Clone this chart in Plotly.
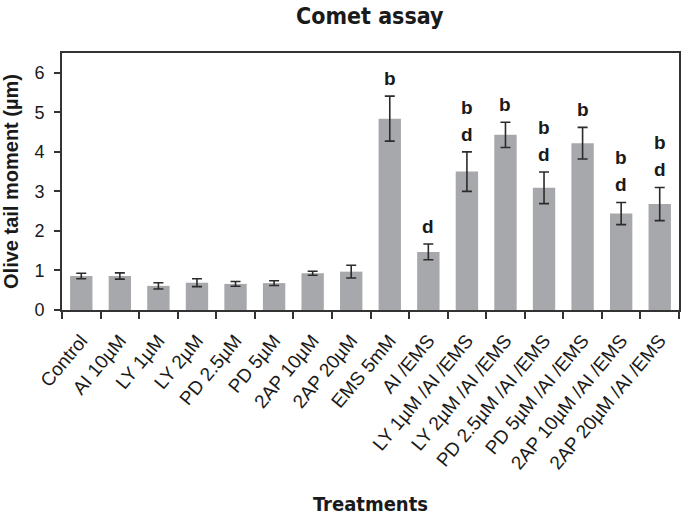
import plotly.graph_objects as go

categories = ["Control", "AI 10µM", "LY 1µM", "LY 2µM", "PD 2.5µM", "PD 5µM",
              "2AP 10µM", "2AP 20µM", "EMS 5mM", "AI /EMS",
              "LY 1µM /AI /EMS", "LY 2µM /AI /EMS", "PD 2.5µM /AI /EMS",
              "PD 5µM /AI /EMS", "2AP 10µM /AI /EMS", "2AP 20µM /AI /EMS"]
values = [0.86, 0.86, 0.61, 0.69, 0.66, 0.68, 0.93, 0.97, 4.84, 1.47,
          3.50, 4.43, 3.09, 4.22, 2.44, 2.68]
errors = [0.07, 0.08, 0.08, 0.10, 0.06, 0.06, 0.05, 0.16, 0.57, 0.20,
          0.50, 0.32, 0.40, 0.40, 0.28, 0.42]
# significance letters, listed from top line to bottom line
letters = [[], [], [], [], [], [], [], [], ["b"], ["d"],
           ["b", "d"], ["b"], ["b", "d"], ["b"], ["b", "d"], ["b", "d"]]
y_ticks = [0, 1, 2, 3, 4, 5, 6]

NARROW = "DejaVu Sans Condensed, Liberation Sans Narrow, sans-serif"
ARIAL = "Liberation Sans, Arial, sans-serif"

fig = go.Figure()
fig.add_trace(go.Bar(
    x=categories, y=values,
    marker=dict(color="#a7a8ab", line=dict(width=0)),
    error_y=dict(type="data", array=errors, visible=True,
                 color="#2b2b2b", thickness=1.6, width=5),
    showlegend=False, hoverinfo="skip",
))

LINE_STEP = 27
for c, v, e, lines in zip(categories, values, errors, letters):
    for i, t in enumerate(reversed(lines)):
        fig.add_annotation(x=c, y=v + e, text="<b>" + t + "</b>", showarrow=False,
                           yanchor="bottom", yshift=5 + i * LINE_STEP,
                           font=dict(family=ARIAL, size=19, color="#1a1a1a"))

fig.update_layout(
    width=681, height=519,
    margin=dict(l=62, r=2, t=53, b=209, autoexpand=False),
    paper_bgcolor="white", plot_bgcolor="white",
    bargap=0.42,
    title=dict(text="<b>Comet assay</b>", x=0.543, xanchor="center",
               y=0.97, yanchor="middle",
               font=dict(family=NARROW, size=23, color="#1a1a1a")),
    xaxis=dict(
        type="category", tickson="boundaries", ticks="outside", ticklen=7,
        tickcolor="#333", tickwidth=1.5, tickangle=-50, automargin=False,
        ticklabelstandoff=10,
        tickfont=dict(family=ARIAL, size=19, color="#1a1a1a"),
        showline=True, linecolor="#333", linewidth=2, mirror=True,
        showgrid=False,
        title=dict(text="<b>Treatments</b>", standoff=25,
                   font=dict(family=NARROW, size=20, color="#1a1a1a")),
    ),
    yaxis=dict(
        range=[0, 6.5], tickvals=y_ticks, ticks="outside", ticklen=6,
        tickcolor="#333", tickwidth=1.5, automargin=False,
        ticklabelstandoff=6,
        tickfont=dict(family=ARIAL, size=18, color="#1a1a1a"),
        showline=True, linecolor="#333", linewidth=2, mirror=True,
        showgrid=False, zeroline=False,
        title=dict(text="<b>Olive tail moment (µm)</b>", standoff=12,
                   font=dict(family=ARIAL, size=20, color="#1a1a1a")),
    ),
)

fig.write_html("out.html", config={"displayModeBar": False},
               post_script="document.body.style.margin='0';")
